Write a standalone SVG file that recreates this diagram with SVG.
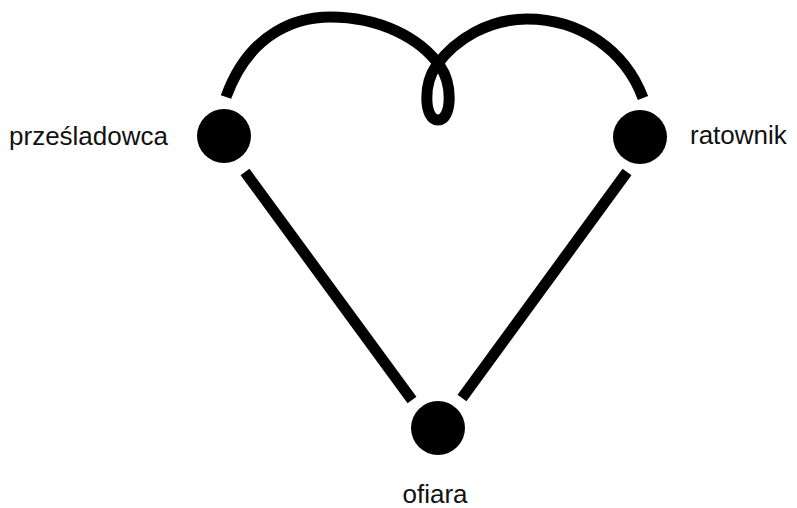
<svg xmlns="http://www.w3.org/2000/svg" width="797" height="508" viewBox="0 0 797 508">
<style>
.node{fill:#000}
.lbl{font-family:"Liberation Sans",Arial,sans-serif;font-size:26px;fill:#111}
.edge{fill:none;stroke:#000;stroke-width:11}
</style>
<rect width="797" height="508" fill="#fff"/>
<g id="connectors">
<line class="edge" x1="245" y1="172" x2="412" y2="400"/>
<line class="edge" x1="627" y1="172" x2="462" y2="398"/>
<path class="edge" d="M226,97 C 250,30 300,17 330,17 C 380,17 420,38 440,66 C 453,85 452,120 438,120 C 424,120 423,85 436,66 C 456,38 490,19 527,19 C 580,19 625,50 643,98"/>
</g>
<g id="przesladowca">
<circle class="node" cx="224" cy="136" r="27"/>
<text class="lbl" x="168" y="145" text-anchor="end">prześladowca</text>
</g>
<g id="ratownik">
<circle class="node" cx="640" cy="137" r="27"/>
<text class="lbl" x="690" y="144">ratownik</text>
</g>
<g id="ofiara">
<circle class="node" cx="438" cy="428" r="27"/>
<text class="lbl" x="435" y="503" text-anchor="middle">ofiara</text>
</g>
</svg>
